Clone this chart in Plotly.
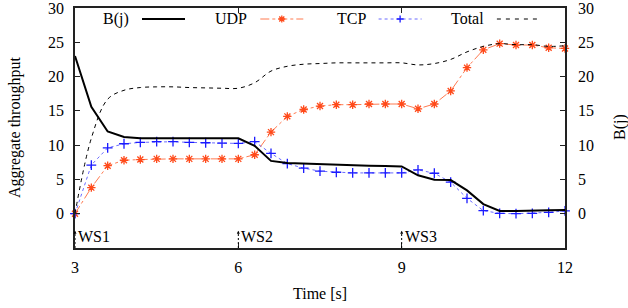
import plotly.graph_objects as go

# ---------------- data ----------------
time_s = [3.0, 3.3, 3.6, 3.9, 4.2, 4.5, 4.8, 5.1, 5.4, 5.7, 6.0,
          6.3, 6.6, 6.9, 7.2, 7.5, 7.8, 8.1, 8.4, 8.7, 9.0,
          9.3, 9.6, 9.9, 10.2, 10.5, 10.8, 11.1, 11.4, 11.7, 12.0]

bj = [23.0, 15.6, 12.0, 11.2, 11.0, 11.0, 11.0, 11.0, 11.0, 11.0, 11.0,
      9.9, 7.7, 7.4, 7.3, 7.2, 7.1, 7.0, 7.0, 6.95, 6.9,
      5.6, 4.95, 4.9, 3.4, 1.4, 0.4, 0.4, 0.4, 0.5, 0.55]

udp = [0.0, 3.8, 7.0, 7.8, 7.9, 8.0, 8.0, 8.0, 8.0, 8.0, 8.0,
       8.6, 11.9, 14.2, 15.2, 15.7, 15.9, 15.9, 16.0, 16.0, 16.0,
       15.3, 16.0, 17.9, 21.3, 23.9, 24.8, 24.6, 24.6, 24.2, 24.1]

tcp = [0.0, 7.1, 9.6, 10.2, 10.4, 10.5, 10.5, 10.4, 10.35, 10.3, 10.25,
       10.5, 8.8, 7.3, 6.65, 6.2, 6.05, 5.95, 5.95, 5.95, 5.95,
       6.4, 5.9, 4.6, 2.25, 0.45, 0.05, 0.0, 0.05, 0.2, 0.4]

total = [0.0, 11.0, 16.7, 18.0, 18.4, 18.5, 18.5, 18.4, 18.35, 18.3, 18.3,
         19.1, 20.8, 21.5, 21.8, 21.9, 22.0, 22.0, 22.0, 22.0, 22.0,
         21.7, 21.9, 22.5, 23.6, 24.4, 24.8, 24.65, 24.65, 24.4, 24.5]

x_ticks = [3, 6, 9, 12]
y_ticks = [0, 5, 10, 15, 20, 25, 30]
ws_times = [3, 6, 9]
ws_labels = ["WS1", "WS2", "WS3"]
legend_names = ["B(j)", "UDP", "TCP", "Total"]

# ---------------- style ----------------
FONT = "Liberation Serif"
FS = 16
UDP_C = "#ff4a1a"
UDP_LINE = "#ff7a50"
TCP_C = "#1a1aff"
TCP_LINE = "#6a6aff"
W, H = 628, 308
PL, PR, PT, PB = 75, 565, 8, 248


def pxx(px):
    return (px - PL) / (PR - PL)


def pxy(py):
    return (PB - py) / (PB - PT)


fig = go.Figure()

fig.add_trace(go.Scatter(x=time_s, y=bj, mode="lines", name="B(j)", yaxis="y2",
                         line=dict(color="black", width=2), cliponaxis=False,
                         showlegend=False, hoverinfo="skip"))
fig.add_trace(go.Scatter(x=time_s, y=udp, mode="lines+markers", name="UDP",
                         line=dict(color=UDP_LINE, width=1, dash="dashdot"),
                         marker=dict(symbol="asterisk-open", size=7, color=UDP_C,
                                     line=dict(color=UDP_C, width=1.3)),
                         cliponaxis=False, showlegend=False, hoverinfo="skip"))
fig.add_trace(go.Scatter(x=time_s, y=tcp, mode="lines+markers", name="TCP",
                         line=dict(color=TCP_LINE, width=1, dash="dot"),
                         marker=dict(symbol="cross-thin-open", size=7, color=TCP_C,
                                     line=dict(color=TCP_C, width=1.3)),
                         cliponaxis=False, showlegend=False, hoverinfo="skip"))
fig.add_trace(go.Scatter(x=time_s, y=total, mode="lines", name="Total",
                         line=dict(color="black", width=1, dash="4px,4px",
                                   shape="spline", smoothing=1.0),
                         cliponaxis=False, showlegend=False, hoverinfo="skip"))

shapes = []
annotations = []

# WS markers (dashed arrows from the bottom axis)
for t, lab in zip(ws_times, ws_labels):
    shapes.append(dict(type="line", xref="x", yref="y", x0=t, x1=t, y0=-5, y1=-2.9,
                       line=dict(color="black", width=1, dash="2px,2px")))
    annotations.append(dict(x=t, y=-2.5, xref="x", yref="y", text="", showarrow=True,
                            ax=0, ay=4, arrowhead=2, arrowsize=0.6, arrowwidth=1,
                            arrowcolor="black"))
    annotations.append(dict(x=t, y=-3.3, xref="x", yref="y", text=lab, showarrow=False,
                            xanchor="left", yanchor="middle", xshift=1,
                            font=dict(family=FONT, size=FS, color="black")))

# custom gnuplot-style legend: text then sample
LEG_Y = 19
for i, name in enumerate(legend_names):
    tr = 131 + 118.3 * i
    s0, s1 = tr + 11, tr + 54
    annotations.append(dict(x=pxx(tr), y=pxy(LEG_Y), xref="paper", yref="paper",
                            text=name, showarrow=False, xanchor="right", yanchor="middle",
                            font=dict(family=FONT, size=FS, color="black")))
    if name == "B(j)":
        ln = dict(color="black", width=2)
    elif name == "UDP":
        ln = dict(color=UDP_LINE, width=1, dash="dashdot")
    elif name == "TCP":
        ln = dict(color=TCP_LINE, width=1, dash="dot")
    else:
        ln = dict(color="black", width=1, dash="4px,5px")
    shapes.append(dict(type="line", xref="paper", yref="paper",
                       x0=pxx(s0), x1=pxx(s1), y0=pxy(LEG_Y), y1=pxy(LEG_Y), line=ln))
    cx, cy = (s0 + s1) / 2, LEG_Y
    if name == "UDP":
        r = 3.5
        d = r * 0.72
        path = (f"M{pxx(cx - r)},{pxy(cy)} L{pxx(cx + r)},{pxy(cy)} "
                f"M{pxx(cx)},{pxy(cy - r)} L{pxx(cx)},{pxy(cy + r)} "
                f"M{pxx(cx - d)},{pxy(cy - d)} L{pxx(cx + d)},{pxy(cy + d)} "
                f"M{pxx(cx - d)},{pxy(cy + d)} L{pxx(cx + d)},{pxy(cy - d)}")
        shapes.append(dict(type="path", xref="paper", yref="paper", path=path,
                           line=dict(color=UDP_C, width=1.3)))
    elif name == "TCP":
        r = 3.5
        path = (f"M{pxx(cx - r)},{pxy(cy)} L{pxx(cx + r)},{pxy(cy)} "
                f"M{pxx(cx)},{pxy(cy - r)} L{pxx(cx)},{pxy(cy + r)}")
        shapes.append(dict(type="path", xref="paper", yref="paper", path=path,
                           line=dict(color=TCP_C, width=1.3)))

# axis titles as paper annotations (fixed positions like the reference)
annotations.append(dict(x=pxx(320), y=pxy(293), xref="paper", yref="paper",
                        text="Time [s]", showarrow=False, xanchor="center",
                        yanchor="middle", font=dict(family=FONT, size=FS, color="black")))
annotations.append(dict(x=pxx(15), y=pxy(128), xref="paper", yref="paper",
                        text="Aggregate throughput", showarrow=False, textangle=-90,
                        xanchor="center", yanchor="middle",
                        font=dict(family=FONT, size=FS, color="black")))
annotations.append(dict(x=pxx(620), y=pxy(127), xref="paper", yref="paper",
                        text="B(j)", showarrow=False, textangle=-90,
                        xanchor="center", yanchor="middle",
                        font=dict(family=FONT, size=FS, color="black")))

axis_font = dict(family=FONT, size=FS, color="black")

fig.update_layout(
    width=W, height=H,
    margin=dict(l=PL, r=W - PR, t=PT, b=H - PB, autoexpand=False),
    paper_bgcolor="white", plot_bgcolor="white",
    font=axis_font,
    showlegend=False,
    hovermode=False,
    shapes=shapes,
    annotations=annotations,
    xaxis=dict(range=[3, 12], tickvals=x_ticks, ticks="inside", ticklen=5,
               tickcolor="#222", showline=True, linecolor="#222", linewidth=2,
               mirror="ticks", showgrid=False, zeroline=False, automargin=False,
               tickfont=axis_font, ticklabelstandoff=4, ticklabeloverflow="allow"),
    yaxis=dict(range=[-5, 30], tickvals=y_ticks, ticks="inside", ticklen=5,
               tickcolor="#222", showline=True, linecolor="#222", linewidth=1.5,
               showgrid=False, zeroline=False, tickfont=axis_font, automargin=False,
               ticklabelstandoff=6, ticklabeloverflow="allow"),
    yaxis2=dict(range=[-5, 30], tickvals=y_ticks, ticks="inside", ticklen=5,
                tickcolor="#222", showline=True, linecolor="#222", linewidth=1.5,
                overlaying="y", side="right", showgrid=False, zeroline=False,
                tickfont=axis_font, ticklabelstandoff=8, automargin=False,
                ticklabeloverflow="allow"),
)

fig.write_html("out.html", config={"displayModeBar": False},
               post_script="document.body.style.margin='0';document.body.style.padding='0';")
